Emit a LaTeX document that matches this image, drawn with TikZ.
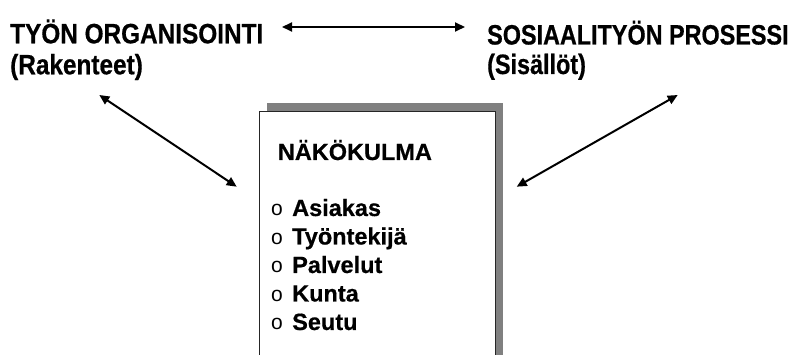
\documentclass[tikz,border=0pt]{standalone}
\usepackage{fontspec}
\setmainfont{Liberation Sans}
\newfontfamily\topfont{Liberation Sans}[FakeStretch=0.87,FakeBold=0.6]
\newfontfamily\topfontR{Liberation Sans}[FakeStretch=0.835,FakeBold=0.6]
\newfontfamily\boxfont{Liberation Sans}[FakeBold=0.6]
\usetikzlibrary{arrows.meta}
\begin{document}
\begin{tikzpicture}[x=1pt,y=-1pt,
  toplabel/.style={anchor=base west, inner sep=0pt, font=\topfont\bfseries\fontsize{28}{31}\selectfont},
  toplabelR/.style={anchor=base west, inner sep=0pt, font=\topfontR\bfseries\fontsize{28}{31}\selectfont},
  boxlabel/.style={anchor=base west, inner sep=0pt, font=\boxfont\bfseries\fontsize{23.5}{27}\selectfont},
  bulletlabel/.style={anchor=base west, inner sep=0pt, font=\fontsize{21}{25}\selectfont},
  dblarrow/.style={{Triangle[length=10pt,width=9pt]}-{Triangle[length=10pt,width=9pt]}, line width=2pt, black},
  panel/.style={draw=black!85, fill=white, line width=1.3pt, anchor=north west, minimum width=236pt, minimum height=260pt, inner sep=0pt},
  panelshadow/.style={fill=black!50, anchor=north west, minimum width=236pt, minimum height=260pt, inner sep=0pt}]
\clip (0,0) rectangle (793,355);
\fill[white] (0,0) rectangle (793,355);
% box with shadow
\node[panelshadow] (shadow) at (267,103) {};
\node[panel] (box) at (259,111) {};
% top labels
\node[toplabel] (org) at (10,43.3) {TYÖN ORGANISOINTI};
\node[toplabel] (rak) at (10,74.3) {(Rakenteet)};
\node[toplabelR] (sos) at (487,44.5) {SOSIAALITYÖN PROSESSI};
\node[toplabelR] (sis) at (487,74) {(Sisällöt)};
% box content
\node[boxlabel] (nako) at (277.7,160) {NÄKÖKULMA};
\foreach \y/\w/\n in {216/Asiakas/a, 244.5/Työntekijä/b, 273/Palvelut/c, 301.5/Kunta/d, 330/Seutu/e}{
  \node[bulletlabel] (bul\n) at (271,\y) {o};
  \node[boxlabel] (item\n) at (292,\y) {\w};
}
% arrow ends
\coordinate (hL) at (282,27);
\coordinate (hR) at (465,27);
\coordinate (lA) at (99.3,95);
\coordinate (lB) at (236.7,186.7);
\coordinate (rA) at (677.7,95);
\coordinate (rB) at (516.7,186.7);
\draw[dblarrow] (hL) -- (hR);
\draw[dblarrow] (lA) -- (lB);
\draw[dblarrow] (rA) -- (rB);
\end{tikzpicture}
\end{document}
